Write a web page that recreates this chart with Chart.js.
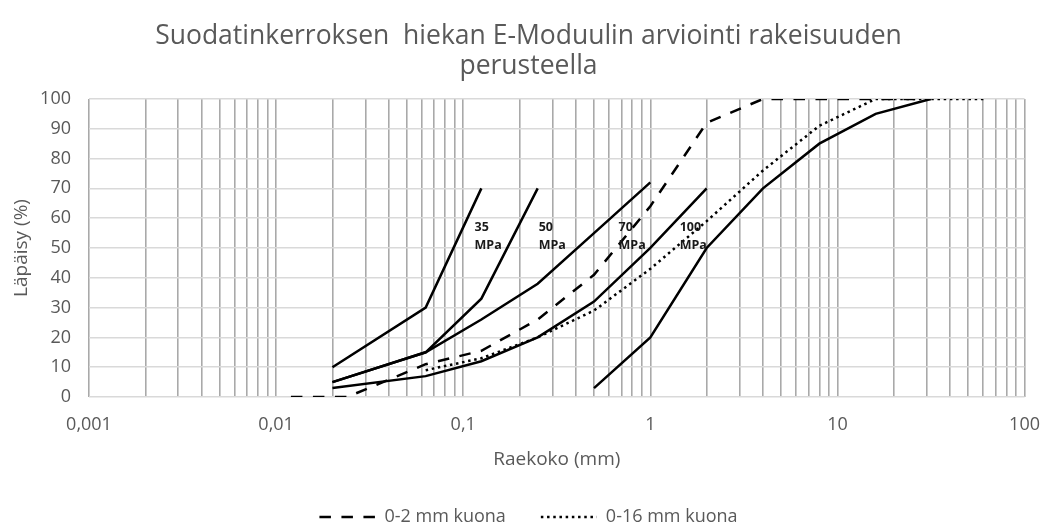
<!DOCTYPE html>
<html>
<head>
<meta charset="utf-8">
<script src="https://cdn.jsdelivr.net/npm/chart.js@4.4.1/dist/chart.umd.min.js"></script>
<style>
  html, body { margin: 0; padding: 0; background: #ffffff; }
  #wrap { width: 1057px; height: 529px; }
</style>
</head>
<body>
<div id="wrap"><canvas id="chart" width="1057" height="529"></canvas></div>
<script>
// Grain size (mm) and passing percentage (%) for each curve
const size35 = [0.02, 0.063, 0.125];
const pass35 = [10, 30, 70];

const size50 = [0.02, 0.063, 0.125, 0.25];
const pass50 = [5, 15, 33, 70];

const size70 = [0.02, 0.063, 0.125, 0.25, 0.5, 1];
const pass70 = [5, 15, 26, 38, 55, 72];

const size100 = [0.02, 0.063, 0.125, 0.25, 0.5, 1, 2];
const pass100 = [3, 7, 12, 20, 32, 50, 70];

const sizeCoarse = [0.5, 1, 2, 4, 8, 16, 31.5];
const passCoarse = [3, 20, 50, 70, 85, 95, 100];

const sizeSlag2 = [0.012, 0.024, 0.063, 0.125, 0.25, 0.5, 1, 2, 4, 8, 16, 31.5];
const passSlag2 = [0, 0, 11, 15.5, 26, 41, 64, 92, 100, 100, 100, 100];

const sizeSlag16 = [0.063, 0.125, 0.25, 0.5, 1, 2, 4, 8, 16, 31.5, 63];
const passSlag16 = [9, 13, 20, 29, 43, 59, 76, 91, 100, 100, 100];

// Axis tick labels (decades on the log axis, Finnish decimal comma)
const xDecades = [0.001, 0.01, 0.1, 1, 10, 100];
const xTickLabels = ['0,001', '0,01', '0,1', '1', '10', '100'];

// Modulus labels beside the curves
const modulusText = ['35', '50', '70', '100'];
const modulusAtSize = [0.115, 0.253, 0.676, 1.435];
const modulusAtPass = [57, 57, 57, 57];

const toPoints = (xs, ys) => xs.map((x, i) => ({ x: x, y: ys[i] }));

const FONT = "'Open Sans', 'Noto Sans', 'Liberation Sans', sans-serif";
const GREY_TEXT = '#595959';
const LINE_W = 2.5;

const solid = (label, xs, ys) => ({
  label: label,
  data: toPoints(xs, ys),
  borderColor: '#000000',
  backgroundColor: '#000000',
  borderWidth: LINE_W,
  pointRadius: 0,
  pointHoverRadius: 0,
  tension: 0,
  fill: false,
  pointStyle: 'line'
});

const datasets = [
  solid('35 MPa', size35, pass35),
  solid('50 MPa', size50, pass50),
  solid('70 MPa', size70, pass70),
  solid('100 MPa', size100, pass100),
  solid('0-32 mm', sizeCoarse, passCoarse),
  Object.assign(solid('0-2 mm kuona', sizeSlag2, passSlag2), {
    borderDash: [11.5, 10.5]
  }),
  Object.assign(solid('0-16 mm kuona', sizeSlag16, passSlag16), {
    borderDash: [2.5, 3.7]
  })
];

const showInLegend = ['0-2 mm kuona', '0-16 mm kuona'];

// Writes the "NN MPa" captions next to the limit curves
const modulusLabels = {
  id: 'modulusLabels',
  afterDatasetsDraw(chart) {
    const { ctx, scales } = chart;
    ctx.save();
    ctx.font = "bold 12.5px " + FONT;
    ctx.fillStyle = '#1a1a1a';
    ctx.textAlign = 'left';
    ctx.textBaseline = 'middle';
    modulusText.forEach((t, i) => {
      const px = scales.x.getPixelForValue(modulusAtSize[i]);
      const py = scales.y.getPixelForValue(modulusAtPass[i]);
      ctx.fillText(t, px, py);
      ctx.fillText('MPa', px, py + 18.7);
    });
    ctx.restore();
  }
};

new Chart(document.getElementById('chart'), {
  type: 'line',
  data: { datasets: datasets },
  plugins: [modulusLabels],
  options: {
    responsive: false,
    animation: false,
    events: [],
    layout: { padding: { left: 24, right: 24, top: 0, bottom: 0 } },
    plugins: {
      title: {
        display: true,
        text: ['Suodatinkerroksen  hiekan E-Moduulin arviointi rakeisuuden', 'perusteella'],
        color: GREY_TEXT,
        font: { family: FONT, size: 26.5, weight: 'normal', lineHeight: 1.12 },
        padding: { top: 22, bottom: 17.6 }
      },
      legend: {
        display: true,
        position: 'bottom',
        maxHeight: 56,
        labels: {
          color: GREY_TEXT,
          font: { family: FONT, size: 18 },
          usePointStyle: true,
          pointStyleWidth: 56,
          padding: 35,
          filter: (item) => showInLegend.includes(item.text),
          generateLabels(chart) {
            const items = Chart.defaults.plugins.legend.labels.generateLabels(chart);
            return items.map((item) => {
              const ds = chart.data.datasets[item.datasetIndex];
              item.lineDash = ds.borderDash || [];
              item.lineWidth = LINE_W;
              item.strokeStyle = ds.borderColor;
              item.fontColor = GREY_TEXT;
              return item;
            });
          }
        }
      },
      tooltip: { enabled: false }
    },
    scales: {
      x: {
        type: 'logarithmic',
        position: 'bottom',
        min: 0.001,
        max: 100,
        afterBuildTicks(scale) {
          const ticks = [];
          for (let d = 0; d < xDecades.length - 1; d++) {
            for (let m = 1; m <= 9; m++) {
              ticks.push({ value: xDecades[d] * m });
            }
          }
          ticks.push({ value: xDecades[xDecades.length - 1] });
          scale.ticks = ticks;
        },
        afterFit(scale) { scale.height = 76; },
        grid: { color: '#a9a9a9', lineWidth: 1.6, drawTicks: false },
        border: { display: false },
        ticks: {
          autoSkip: false,
          maxRotation: 0,
          padding: 17,
          color: GREY_TEXT,
          font: { family: FONT, size: 18 },
          callback(value) {
            const k = xDecades.findIndex(d => Math.abs(d - value) / d < 1e-6);
            return k >= 0 ? xTickLabels[k] : '';
          }
        },
        title: {
          display: true,
          text: 'Raekoko (mm)',
          color: GREY_TEXT,
          font: { family: FONT, size: 19 },
          padding: { top: 0, bottom: 1.6 }
        }
      },
      y: {
        min: 0,
        max: 100,
        afterFit(scale) { scale.width = 65; },
        grid: { color: '#d9d9d9', lineWidth: 1.6, drawTicks: false },
        border: { display: false },
        ticks: {
          stepSize: 10,
          padding: 18,
          color: GREY_TEXT,
          font: { family: FONT, size: 18 }
        },
        title: {
          display: true,
          text: 'Läpäisy (%)',
          color: GREY_TEXT,
          font: { family: FONT, size: 19 },
          padding: { top: -13.4, bottom: 0 }
        }
      }
    }
  }
});
</script>
</body>
</html>
